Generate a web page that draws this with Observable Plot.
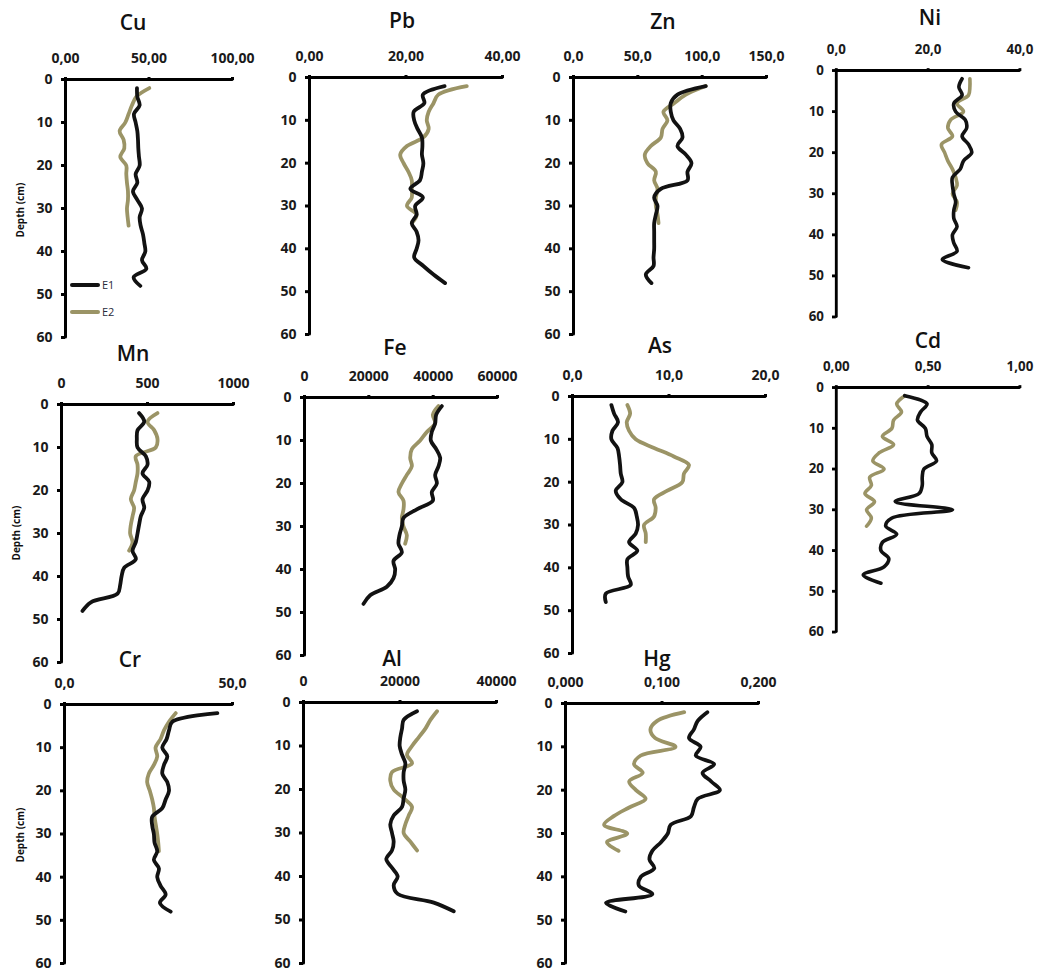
<!DOCTYPE html>
<html><head><meta charset="utf-8">
<script src="https://cdn.jsdelivr.net/npm/d3@7"></script>
<script src="https://cdn.jsdelivr.net/npm/@observablehq/plot@0.6"></script>
<style>
body{margin:0;background:#fff;}
#chart{position:relative;width:1048px;height:971px;overflow:hidden;font-family:"Open Sans",sans-serif;background:#fff;}
.panel{position:absolute;}
.panel svg{overflow:visible;background:transparent;}
.title{position:absolute;transform:translate(-50%,-50%);font-size:21px;font-weight:600;color:#111;white-space:nowrap;}
.ylab{position:absolute;transform:translate(-50%,-50%) rotate(-90deg);font-size:10px;font-weight:700;color:#111;white-space:nowrap;}
.leg{position:absolute;display:flex;align-items:center;font-size:11px;color:#2a2a3a;font-family:"Open Sans",sans-serif;}
.leg span.sw{display:inline-block;width:30px;height:4px;border-radius:2px;margin-right:2px;}
</style></head>
<body><div id="chart"></div>
<script>
// ---- data ----
const seriesNames = ["E1", "E2"];
const depthE1 = [2,4,6,8,10,12,14,16,18,20,22,24,26,28,30,32,34,36,38,40,42,44,46,48];
const depthE2 = [2,4,6,8,10,12,14,16,18,20,22,24,26,28,30,32,34];
const depthTicks = [0,10,20,30,40,50,60];

const cuE1 = [42.8,43,44.4,41,42,43,43.4,43.6,44,44.4,42,43,40.4,43,45.8,44.4,45,46.4,47.2,47.8,45.8,48.4,40.8,44.8];
const cuE2 = [50.2,42.4,39.8,37.8,35.8,32.4,34.8,35.2,32.8,36.4,36.4,36.8,37.4,37.4,36.8,37.2,37.8];
const cuTicks = [0,50,100];
const cuTickLabels = ["0,00","50,00","100,00"];

const pbE1 = [28.0,23.5,23.8,21.6,21.7,22.4,23.3,23.4,23.3,23.6,23.3,22.9,20.9,23.5,21.9,22.2,21.2,22.2,22.6,22.2,21.7,23.6,25.7,28.1];
const pbE2 = [32.6,26.7,25.7,24.7,24.3,24.7,23.6,20.2,18.8,19.5,20.5,21.2,21.2,21.2,20.2,22.2,21.2];
const pbTicks = [0,20,40];
const pbTickLabels = ["0,00","20,00","40,00"];

const znE1 = [102.8,80.8,75.6,75.6,77.7,82.9,84.7,80.8,87.3,91.7,88.6,88.6,67.9,62.7,65.3,64,62.7,62.7,62.7,62.7,62.2,62.2,56.2,60.6];
const znE2 = [102.8,87.3,78.2,69.9,73,69.2,67.9,60.1,55.4,57.5,64,62.7,65.3,64,64,65.3,66.1];
const znTicks = [0,50,100,150];
const znTickLabels = ["0,0","50,0","100,0","150,0"];

const niE1 = [27.4,26.7,27.4,25.6,26.0,28.1,28.4,27.4,28.8,29.5,27.7,27.0,25.3,25.3,25.6,26.0,25.6,25.6,26.3,25.3,25.6,26.3,23.1,28.8];
const niE2 = [29.1,29.1,28.8,26.3,27.7,24.9,24.3,25.3,22.9,23.6,24.3,25.3,26.0,26.3,25.3,26.3,26.0];
const niTicks = [0,20,40];
const niTickLabels = ["0,0","20,0","40,0"];

const mnE1 = [451,481,442,438,442,490,500,471,510,500,471,481,461,451,442,432,413,432,364,349,341,326,171,122];
const mnE2 = [558,500,539,558,548,432,442,442,432,422,403,422,413,403,399,413,393];
const mnTicks = [0,500,1000];
const mnTickLabels = ["0","500","1000"];

const feE1 = [42700,40940,40620,39580,39270,40940,42180,41660,40620,41140,39580,39900,34920,30780,30260,29530,29220,30260,27670,28190,27670,25600,20420,18340];
const feE2 = [41660,39900,40620,38030,35960,33370,32850,33370,31810,30260,29220,30780,30780,30260,30780,31810,31300];
const feTicks = [0,20000,40000,60000];
const feTickLabels = ["0","20000","40000","60000"];

const asE1 = [4.03,4.31,4.72,4.14,4.03,4.66,4.83,4.93,5.0,5.17,4.48,5.0,6.38,6.66,6.79,6.55,5.86,6.72,5.69,5.69,5.76,6.03,3.45,3.45];
const asE2 = [5.69,5.97,5.62,5.86,6.55,8.45,10.5,12.07,11.55,11.38,9.83,8.45,8.62,8.45,7.41,7.59,7.59];
const asTicks = [0,10,20];
const asTickLabels = ["0,0","10,0","20,0"];

const cdE1 = [0.373,0.494,0.459,0.442,0.485,0.494,0.52,0.52,0.546,0.477,0.468,0.468,0.451,0.321,0.633,0.303,0.269,0.329,0.251,0.243,0.286,0.26,0.147,0.243];
const cdE2 = [0.373,0.329,0.355,0.312,0.303,0.251,0.312,0.234,0.199,0.26,0.182,0.191,0.156,0.208,0.165,0.191,0.165];
const cdTicks = [0,0.5,1];
const cdTickLabels = ["0,00","0,50","1,00"];

const crE1 = [45.5,32.1,31.1,30.4,29.1,30.6,29.6,29.1,30.6,31.1,30.1,29.1,26.1,26.1,26.6,26.8,27.6,26.6,28.1,27.6,28.6,30.1,28.4,31.6];
const crE2 = [33.1,31.1,29.6,28.6,27.1,27.6,26.6,25.1,24.6,25.4,26.1,26.6,26.8,27.2,27.6,27.9,28.1];
const crTicks = [0,50];
const crTickLabels = ["0,0","50,0"];

const alE1 = [23530,20760,20420,20070,19930,20420,21110,20760,20760,21110,20760,20420,18690,17990,18340,18690,18340,17160,18340,19520,18690,19520,26990,31140];
const alE2 = [27680,26300,25260,23880,22490,21450,22490,18340,17990,18690,20760,22490,21800,21110,20760,22150,23530];
const alTicks = [0,20000,40000];
const alTickLabels = ["0","20000","40000"];

const hgE1 = [0.147,0.137,0.133,0.128,0.140,0.135,0.154,0.142,0.151,0.160,0.137,0.133,0.130,0.109,0.106,0.099,0.090,0.087,0.092,0.078,0.076,0.090,0.042,0.062];
const hgE2 = [0.123,0.095,0.088,0.093,0.114,0.078,0.071,0.080,0.066,0.073,0.083,0.066,0.050,0.040,0.064,0.043,0.055];
const hgTicks = [0,0.1,0.2];
const hgTickLabels = ["0,000","0,100","0,200"];

// ---- layout (page pixels: x of 0, x of max, y of depth 0, y of depth 60; title centre; depth label centre) ----
const panels = [
  {name:"Cu", e1:cuE1, e2:cuE2, ticks:cuTicks, labels:cuTickLabels, box:[65,232,79,337], title:[133,22], ylab:[20,210], legend:true},
  {name:"Pb", e1:pbE1, e2:pbE2, ticks:pbTicks, labels:pbTickLabels, box:[309,502,77,334], title:[402,20]},
  {name:"Zn", e1:znE1, e2:znE2, ticks:znTicks, labels:znTickLabels, box:[573,766,77,334], title:[663,21]},
  {name:"Ni", e1:niE1, e2:niE2, ticks:niTicks, labels:niTickLabels, box:[838,1031,72,331], title:[930,17]},
  {name:"Mn", e1:mnE1, e2:mnE2, ticks:mnTicks, labels:mnTickLabels, box:[61,233,404,662], title:[133,353], ylab:[16,533]},
  {name:"Fe", e1:feE1, e2:feE2, ticks:feTicks, labels:feTickLabels, box:[304,497,397,655], title:[395,347]},
  {name:"As", e1:asE1, e2:asE2, ticks:asTicks, labels:asTickLabels, box:[572,765,396,653], title:[660,345]},
  {name:"Cd", e1:cdE1, e2:cdE2, ticks:cdTicks, labels:cdTickLabels, box:[838,1031,389,646], title:[928,340]},
  {name:"Cr", e1:crE1, e2:crE2, ticks:crTicks, labels:crTickLabels, box:[64,232,704,963], title:[130,659], ylab:[20,835]},
  {name:"Al", e1:alE1, e2:alE2, ticks:alTicks, labels:alTickLabels, box:[303,496,702,963], title:[392,658]},
  {name:"Hg", e1:hgE1, e2:hgE2, ticks:hgTicks, labels:hgTickLabels, box:[565,758,703,963], title:[657,658]}
];
const colors = {E1:"#121212", E2:"#9b9466"};

const chart = document.getElementById("chart");
const mL = 45, mT = 40, mR = 30, mB = 12;
const font = '"Open Sans", sans-serif';

for (const p of panels) {
  const [x0, x1, y0, y60] = p.box;
  const xmax = p.ticks[p.ticks.length - 1];
  const width = mL + (x1 - x0) + mR;
  const height = mT + (y60 - y0) + mB;
  const e1 = depthE1.map((d, i) => ({depth: d, value: p.e1[i], s: "E1"}));
  const e2 = depthE2.map((d, i) => ({depth: d, value: p.e2[i], s: "E2"}));
  const svg = Plot.plot({
    width, height,
    marginLeft: mL, marginTop: mT, marginRight: mR, marginBottom: mB,
    style: {background: "transparent", overflow: "visible"},
    x: {domain: [0, xmax], range: [mL, mL + (x1 - x0)]},
    y: {domain: [0, 60], range: [mT, mT + (y60 - y0)]},
    marks: [
      Plot.axisX({anchor: "top", ticks: p.ticks, tickFormat: (d) => p.labels[p.ticks.indexOf(d)],
        tickSize: 3, tickPadding: 14, strokeWidth: 3, fontSize: 14, fontWeight: "bold", fontFamily: font, fill: "#1a1a1a", label: null}),
      Plot.axisY({anchor: "left", ticks: depthTicks, tickFormat: d => String(d),
        tickSize: 4, tickPadding: 9, strokeWidth: 3, fontSize: 14, fontWeight: "bold", fontFamily: font, fill: "#1a1a1a", label: null}),
      Plot.ruleY([0], {x1: 0, x2: xmax, stroke: "#000", strokeWidth: 3, strokeLinecap: "round"}),
      Plot.ruleX([0], {y1: 0, y2: 60, stroke: "#000", strokeWidth: 3, strokeLinecap: "round"}),
      Plot.line(e2, {x: "value", y: "depth", stroke: colors.E2, strokeWidth: 3.8, curve: "catmull-rom"}),
      Plot.line(e1, {x: "value", y: "depth", stroke: colors.E1, strokeWidth: 3.8, curve: "catmull-rom"})
    ]
  });
  const div = document.createElement("div");
  div.className = "panel";
  div.style.left = (x0 - mL) + "px";
  div.style.top = (y0 - mT) + "px";
  div.appendChild(svg);
  chart.appendChild(div);

  const t = document.createElement("div");
  t.className = "title";
  t.textContent = p.name;
  t.style.left = p.title[0] + "px";
  t.style.top = p.title[1] + "px";
  chart.appendChild(t);

  if (p.ylab) {
    const yl = document.createElement("div");
    yl.className = "ylab";
    yl.textContent = "Depth (cm)";
    yl.style.left = p.ylab[0] + "px";
    yl.style.top = p.ylab[1] + "px";
    chart.appendChild(yl);
  }
  if (p.legend) {
    seriesNames.forEach((s, i) => {
      const l = document.createElement("div");
      l.className = "leg";
      l.style.left = "70px";
      l.style.top = (277 + i * 27) + "px";
      l.innerHTML = `<span class="sw" style="background:${colors[s]}"></span>${s}`;
      chart.appendChild(l);
    });
  }
}
</script></body></html>
